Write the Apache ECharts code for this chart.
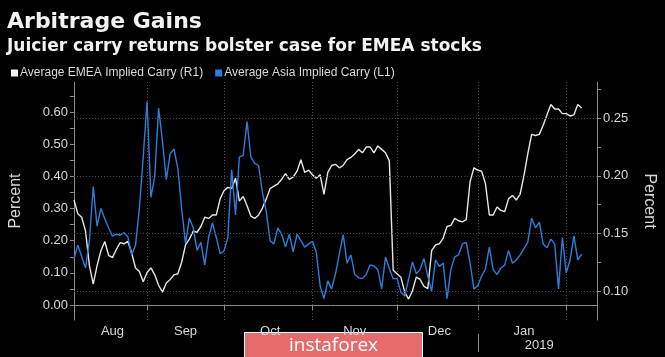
<!DOCTYPE html>
<html><head><meta charset="utf-8">
<script src="https://cdn.jsdelivr.net/npm/echarts@6/dist/echarts.min.js"></script>
<style>html,body{margin:0;padding:0;background:#000;}#c{width:665px;height:357px;}</style>
</head><body><div id="c"></div>
<script>
// Weekday categories (trading days) from 2018-08-07 to 2019-02-13
const startDate = '2018-08-07', endDate = '2019-02-13';
const monthNames = ['Jan','Feb','Mar','Apr','May','Jun','Jul','Aug','Sep','Oct','Nov','Dec'];
const categories = [];
(function(){
  let d = new Date(startDate + 'T00:00:00Z');
  const e = new Date(endDate + 'T00:00:00Z');
  while (d <= e) {
    const wd = d.getUTCDay();
    if (wd !== 0 && wd !== 6) categories.push(d.toISOString().slice(0,10));
    d = new Date(d.getTime() + 86400000);
  }
})();

// Average Asia Implied Carry (L1), percent
const asiaCarry = [
0.144,0.186,0.15,0.115,0.20,0.368,0.245,0.30,0.268,0.24,
0.214,0.22,0.217,0.225,0.212,0.156,0.186,0.30,0.46,0.633,
0.335,0.40,0.612,0.51,0.39,0.47,0.485,0.425,0.30,0.19,
0.27,0.24,0.17,0.195,0.125,0.21,0.255,0.21,0.16,0.168,
0.21,0.42,0.28,0.46,0.465,0.57,0.46,0.44,0.433,0.35,
0.29,0.20,0.19,0.24,0.22,0.18,0.22,0.165,0.22,0.20,
0.18,0.19,0.198,0.165,0.06,0.02,0.075,0.05,0.097,0.16,
0.219,0.13,0.156,0.095,0.085,0.082,0.095,0.125,0.121,0.11,
0.05,0.149,0.113,0.082,0.082,0.04,0.028,0.08,0.134,0.097,
0.11,0.145,0.09,0.043,0.14,0.12,0.13,0.02,0.11,0.15,
0.156,0.19,0.195,0.13,0.05,0.06,0.09,0.112,0.18,0.11,
0.095,0.115,0.124,0.17,0.13,0.14,0.155,0.175,0.195,0.27,
0.24,0.258,0.19,0.178,0.205,0.19,0.05,0.21,0.10,0.14,
0.215,0.14,0.158
];
// Average EMEA Implied Carry (R1), percent
const emeaCarry = [
0.179,0.167,0.164,0.152,0.122,0.106,0.122,0.135,0.143,0.131,
0.129,0.136,0.142,0.141,0.143,0.133,0.12,0.117,0.108,0.116,
0.12,0.114,0.105,0.099,0.107,0.110,0.114,0.115,0.125,0.14,
0.145,0.152,0.151,0.156,0.164,0.163,0.166,0.166,0.18,0.187,
0.19,0.189,0.198,0.178,0.182,0.174,0.165,0.163,0.166,0.172,
0.18,0.189,0.191,0.193,0.197,0.202,0.197,0.199,0.204,0.214,
0.203,0.205,0.201,0.198,0.201,0.184,0.203,0.209,0.21,0.207,
0.209,0.214,0.216,0.219,0.223,0.220,0.225,0.225,0.220,0.226,
0.223,0.220,0.213,0.118,0.115,0.112,0.099,0.093,0.100,0.112,
0.110,0.104,0.102,0.135,0.14,0.141,0.146,0.156,0.157,0.163,
0.161,0.16,0.162,0.195,0.207,0.205,0.204,0.193,0.166,0.166,
0.173,0.17,0.169,0.18,0.183,0.179,0.184,0.20,0.219,0.236,
0.235,0.236,0.244,0.253,0.262,0.258,0.258,0.254,0.254,0.252,
0.253,0.262,0.259
];
const leftTickLabels = [0.00,0.10,0.20,0.30,0.40,0.50,0.60];
const leftMinorTicks = [0,0.05,0.10,0.15,0.20,0.25,0.30,0.35,0.40,0.45,0.50,0.55,0.60,0.65];
const rightTickLabels = [0.10,0.15,0.20,0.25];
const rightMinorTicks = [0.10,0.125,0.15,0.175,0.20,0.225,0.25,0.275];

// month boundary indices and label indices
const monthStarts = [];
categories.forEach((c,i)=>{ if(i>0 && c.slice(5,7)!==categories[i-1].slice(5,7)) monthStarts.push(i); });
const bounds = [0].concat(monthStarts);
const labelIdx = {};
for (let k=0;k<bounds.length-1;k++){ labelIdx[Math.round((bounds[k]+bounds[k+1])/2)] = true; }
const yearStart = categories.indexOf('2019-01-01');
const yearLabelIdx = Math.round((yearStart + categories.length-1)/2);

const txt = '#d8d8d8', axisCol = '#8a8a8a', gridCol = '#4a4a4a';
const font = 'Liberation Sans';
const titleFont = 'DejaVu Sans';

const chart = echarts.init(document.getElementById('c'), null, {renderer:'canvas'});
chart.setOption({
  backgroundColor:'#000',
  animation:false,
  title:[
    {text:'Arbitrage Gains', left:2, top:6, textStyle:{color:'#f2f2f2', fontSize:22, fontWeight:'bold', fontFamily:titleFont}},
    {text:'Juicier carry returns bolster case for EMEA stocks', left:2, top:33, textStyle:{color:'#f2f2f2', fontSize:17, fontWeight:'bold', fontFamily:titleFont}}
  ],
  legend:{
    left:6, top:62, icon:'rect', itemWidth:7, itemHeight:7, itemGap:12,
    textStyle:{color:txt, fontSize:12, fontFamily:font, padding:[0,0,0,-3]},
    data:[{name:'Average EMEA Implied Carry (R1)', itemStyle:{color:'#f0f0f0'}},
          {name:'Average Asia Implied Carry (L1)', itemStyle:{color:'#2b7fd9'}}]
  },
  grid:{left:69, right:66, top:82, bottom:37},
  xAxis:[{
    type:'category', data:categories, boundaryGap:false,
    axisLine:{lineStyle:{color:axisCol, width:1}},
    axisTick:{show:true, length:5, interval:(i)=>monthStarts.indexOf(i)>=0, lineStyle:{color:axisCol}},
    axisLabel:{interval:(i)=>!!labelIdx[i], formatter:(v)=>monthNames[parseInt(v.slice(5,7),10)-1], color:txt, fontSize:13, fontFamily:font, margin:5},
    splitLine:{show:true, interval:(i)=>monthStarts.indexOf(i)>=0, lineStyle:{color:gridCol, type:[1,2], width:1}}
  },{
    type:'category', data:categories, boundaryGap:false, position:'bottom', offset:14,
    axisLine:{show:false},
    axisTick:{show:true, length:18, interval:(i)=>i===yearStart, lineStyle:{color:axisCol}},
    axisLabel:{interval:(i)=>i===yearLabelIdx, formatter:(v)=>v.slice(0,4), color:txt, fontSize:13, fontFamily:font, margin:5},
    splitLine:{show:false}
  }],
  yAxis:[{
    type:'value', position:'left', min:-0.0466, max:0.6933,
    name:'Percent', nameLocation:'middle', nameGap:50, nameRotate:90,
    nameTextStyle:{color:txt, fontSize:16, fontFamily:font},
    axisLine:{show:true, lineStyle:{color:axisCol}},
    axisTick:{show:true, length:4, customValues:leftMinorTicks, lineStyle:{color:axisCol}},
    axisLabel:{customValues:leftTickLabels, formatter:(v)=>v.toFixed(2), color:txt, fontSize:13, fontFamily:font, margin:6},
    splitLine:{show:false}
  },{
    type:'value', position:'right', min:0.0748, max:0.2815,
    name:'Percent', nameLocation:'middle', nameGap:44, nameRotate:-90,
    nameTextStyle:{color:txt, fontSize:16, fontFamily:font},
    axisLine:{show:true, lineStyle:{color:axisCol}},
    axisTick:{show:true, length:4, customValues:rightMinorTicks, lineStyle:{color:axisCol}},
    axisLabel:{customValues:rightTickLabels, formatter:(v)=>v.toFixed(2), color:txt, fontSize:13, fontFamily:font, margin:6},
    splitLine:{show:false}
  }],
  series:[
    {type:'line', name:'grid', yAxisIndex:1, data:[], silent:true, z:1,
     markLine:{silent:true, symbol:['none','none'], label:{show:false},
       lineStyle:{color:gridCol, type:[1,2], width:1},
       data:rightTickLabels.map(v=>({yAxis:v}))}},
    {type:'line', name:'Average EMEA Implied Carry (R1)', yAxisIndex:1, data:emeaCarry,
     showSymbol:false, lineStyle:{color:'#e6e6e6', width:1.4}, itemStyle:{color:'#f0f0f0'}, z:3},
    {type:'line', name:'Average Asia Implied Carry (L1)', yAxisIndex:0, data:asiaCarry,
     showSymbol:false, lineStyle:{color:'#2b7fd9', width:1.4}, itemStyle:{color:'#2b7fd9'}, z:4}
  ],
  graphic:[{
    type:'group', left:244, top:332, z:100,
    children:[
      {type:'rect', shape:{x:0,y:0,width:178,height:26}, style:{fill:'#e46c6c', stroke:'#ffffff', lineWidth:1}},
      {type:'text', style:{x:89, y:13, text:'instaforex', fill:'#ffffff', font:'19px "Open Sans"', align:'center', verticalAlign:'middle'}}
    ]
  }]
});
</script></body></html>
